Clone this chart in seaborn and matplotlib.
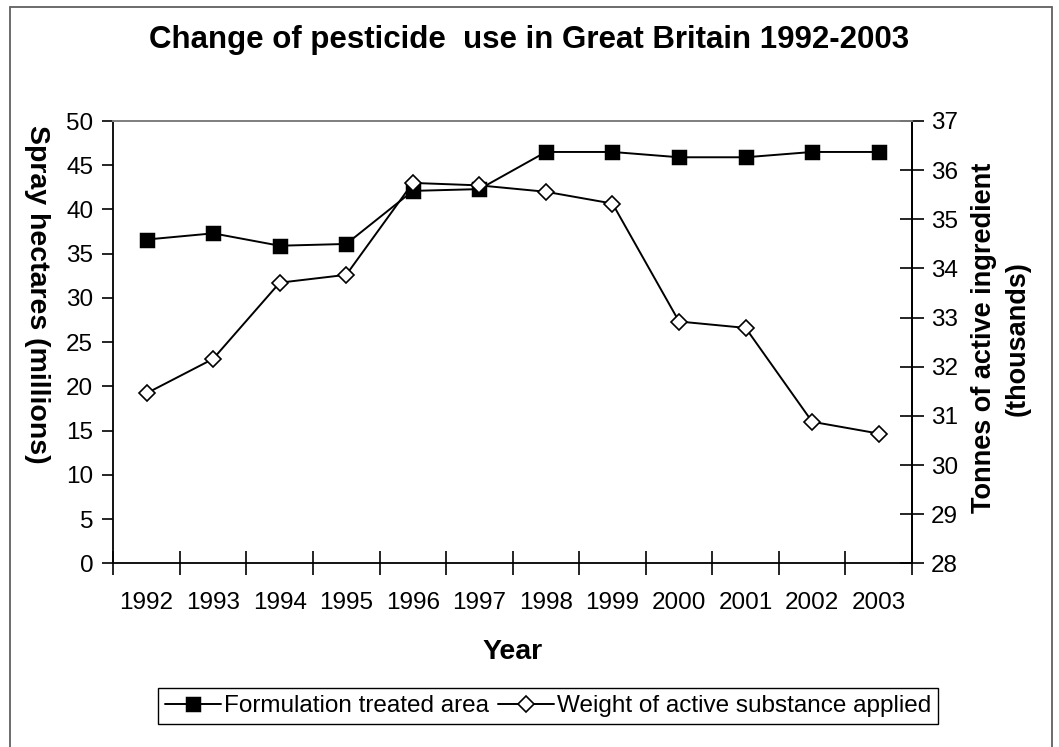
import matplotlib
matplotlib.use("Agg")
import matplotlib.pyplot as plt
from matplotlib.patches import Rectangle
from matplotlib.ticker import FixedLocator, MultipleLocator
import numpy as np
import pandas as pd
import seaborn as sns

years = ["1992", "1993", "1994", "1995", "1996", "1997",
         "1998", "1999", "2000", "2001", "2002", "2003"]
treated_area = [36.6, 37.3, 35.9, 36.1, 42.1, 42.3,
                46.5, 46.5, 45.9, 45.9, 46.5, 46.5]
active_weight = [31.46, 32.16, 33.71, 33.87, 35.74, 35.69,
                 35.56, 35.32, 32.92, 32.79, 30.88, 30.64]

area_label = "Formulation treated area"
weight_label = "Weight of active substance applied"

sns.set_theme(style="white")
plt.rcParams["font.family"] = ["Liberation Sans", "DejaVu Sans"]
plt.rcParams["text.color"] = "black"
plt.rcParams["axes.labelcolor"] = "black"
plt.rcParams["xtick.color"] = "black"
plt.rcParams["ytick.color"] = "black"

W, H = 1059, 747
fig = plt.figure(figsize=(W / 100, H / 100), dpi=100)
fig.patch.set_facecolor("white")

# plot area in pixels
left_px, right_px, top_px, bottom_px = 113.3, 912.0, 121.0, 563.3
ax = fig.add_axes([left_px / W, 1 - bottom_px / H,
                   (right_px - left_px) / W, (bottom_px - top_px) / H])
ax2 = ax.twinx()

df = pd.DataFrame({"Year": years, "area": treated_area, "weight": active_weight})

sns.pointplot(data=df, x="Year", y="area", ax=ax, color="black",
              marker="s", markersize=9.5, linewidth=1.4,
              markeredgecolor="black", label=area_label)
sns.pointplot(data=df, x="Year", y="weight", ax=ax2, color="black",
              marker="D", markersize=7.8, linewidth=1.4,
              markerfacecolor="white", markeredgecolor="black",
              markeredgewidth=1.2, label=weight_label)

for a in (ax, ax2):
    a.set_xlim(-0.5, len(years) - 0.5)
    a.set_facecolor("none")
    a.grid(False)
    leg = a.get_legend()
    if leg is not None:
        leg.remove()

ax.set_ylim(0, 50)
ax.yaxis.set_major_locator(MultipleLocator(5))
ax2.set_ylim(28, 37)
ax2.yaxis.set_major_locator(MultipleLocator(1))

fs = 17.5
lab_fs = 20.5
# x axis: labels at category centres, tick marks at category boundaries
ax.xaxis.set_minor_locator(FixedLocator(np.arange(-0.5, len(years), 1.0)))
ax.tick_params(axis="x", which="major", length=0, pad=21, labelsize=fs)
ax.tick_params(axis="x", which="minor", bottom=True, direction="inout",
               length=17, width=1.2, color="black")
ax.tick_params(axis="y", which="major", left=True, direction="out",
               length=8, width=1.2, pad=6.5, labelsize=fs)
ax2.tick_params(axis="y", which="major", right=True, direction="inout",
                length=17, width=1.2, pad=5, labelsize=fs)

ax.set_xlabel("Year", fontsize=lab_fs, fontweight="bold", labelpad=18)
ax.set_ylabel("Spray hectares (millions)", fontsize=lab_fs, fontweight="bold",
              rotation=270, ha="center", va="center")
ax.yaxis.set_label_coords((36.5 - left_px) / (right_px - left_px), 0.609)
ax2.set_ylabel("Tonnes of active ingredient\n(thousands)", fontsize=19.5,
               fontweight="bold", rotation=90, ha="center", va="center",
               multialignment="center", linespacing=1.4)
ax2.yaxis.set_label_coords((1001 - left_px) / (right_px - left_px), 0.509)

for a in (ax, ax2):
    for side, sp in a.spines.items():
        sp.set_linewidth(1.3)
        sp.set_color("black")
    a.spines["top"].set_color("#808080")
ax2.spines["left"].set_visible(False)
ax2.spines["bottom"].set_visible(False)

fig.text(0.5, 1 - 40 / H, "Change of pesticide  use in Great Britain 1992-2003",
         ha="center", va="center", fontsize=22.5, fontweight="bold")

# legend box below the axes
handles = ax.get_lines()[:1] + ax2.get_lines()[:1]
fig.legend(handles, [area_label, weight_label], loc="center",
           bbox_to_anchor=(548 / W, 1 - 706 / H), ncol=2, frameon=True,
           fancybox=False, edgecolor="black", fontsize=fs,
           handlelength=2.3, handletextpad=0.1, columnspacing=0.4,
           borderpad=0.3, framealpha=1)
leg = fig.legends[0]
leg.get_frame().set_linewidth(1.0)

# outer chart border
fig.patches.append(Rectangle((9.5 / W, -0.05), (1051.7 - 9.5) / W, 1.05 - 7 / H,
                             transform=fig.transFigure, fill=False,
                             edgecolor="#606060", linewidth=1.3))

fig.savefig("out.png", dpi=100, facecolor="white")
